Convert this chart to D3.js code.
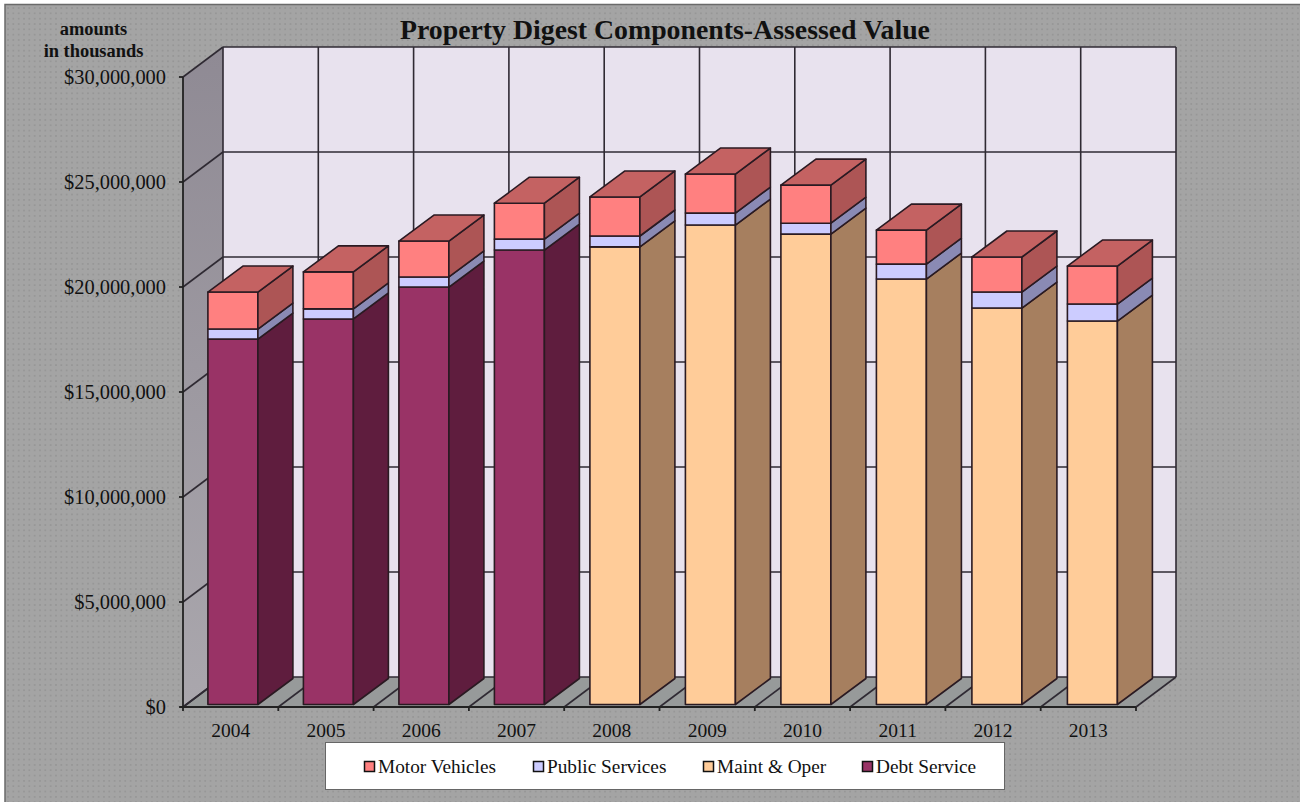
<!DOCTYPE html>
<html><head><meta charset="utf-8">
<script src="https://cdn.jsdelivr.net/npm/d3@7"></script>
<style>html,body{margin:0;padding:0;background:#fff}svg{display:block}text{font-family:"Liberation Serif","Times New Roman",serif;fill:#111}</style>
</head><body><svg id="c" width="1300" height="802"></svg>
<script>
const categories=["2004","2005","2006","2007","2008","2009","2010","2011","2012","2013"];
const base=[17.40,18.36,19.88,21.64,21.79,22.83,22.40,20.26,18.88,18.26];
const publicServices=[0.48,0.48,0.48,0.52,0.52,0.57,0.52,0.71,0.76,0.81];
const motorVehicles=[1.76,1.76,1.71,1.71,1.86,1.86,1.81,1.62,1.67,1.81];
const baseSeries=["Debt Service","Debt Service","Debt Service","Debt Service","Maint & Oper","Maint & Oper","Maint & Oper","Maint & Oper","Maint & Oper","Maint & Oper"];
const yTicks=[0,5,10,15,20,25,30];
const legendNames=["Motor Vehicles","Public Services","Maint & Oper","Debt Service"];
const colors={"Motor Vehicles":["#ff8080","#ad5555","#c46262"],"Public Services":["#ccccff","#8a8ab4","#a5a5cf"],"Maint & Oper":["#ffcc99","#a67f5f","#c09a75"],"Debt Service":["#993366","#5f1d3e","#7a2950"]};

const svg=d3.select("#c");
const defs=svg.append("defs");
const pat=defs.append("pattern").attr("id","dots").attr("width",5.33).attr("height",5.33).attr("patternUnits","userSpaceOnUse");
pat.append("rect").attr("width",5.33).attr("height",5.33).attr("fill","#a4a4a4");
pat.append("rect").attr("x",2).attr("y",2).attr("width",1.4).attr("height",1.4).attr("fill","#8f8f8f");
const g1=defs.append("linearGradient").attr("id","wall").attr("x1",0).attr("y1",0).attr("x2",0).attr("y2",1);
g1.append("stop").attr("offset",0).attr("stop-color","#8f8a94");
g1.append("stop").attr("offset",1).attr("stop-color","#aaa7ad");

svg.append("rect").attr("x",5).attr("y",4.5).attr("width",1300).attr("height",802).attr("fill","url(#dots)").attr("stroke","#6a6a6a").attr("stroke-width",1.5);

const x=d3.scaleBand().domain(categories).range([183,1136]);
const y=d3.scaleLinear().domain([0,30]).range([707,77]);
const barX=d3.scaleBand().domain(categories).range([183.5,1138.5]);
const wallDx=40,wallDy=-30,barDx=35,barDy=-26,barW=50,barInset=24.4,barLift=-2.5;
const line="#2f2a33";
const xEnd=x.range()[1],xStart=x.range()[0];

// walls
svg.append("rect").attr("x",xStart+wallDx).attr("y",y(30)+wallDy).attr("width",xEnd-xStart).attr("height",y(0)-y(30)).attr("fill","#e8e2ee");
svg.append("path").attr("d",`M${xStart},${y(0)}L${xStart},${y(30)}L${xStart+wallDx},${y(30)+wallDy}L${xStart+wallDx},${y(0)+wallDy}Z`).attr("fill","url(#wall)");
svg.append("path").attr("d",`M${xStart},${y(0)}L${xEnd},${y(0)}L${xEnd+wallDx},${y(0)+wallDy}L${xStart+wallDx},${y(0)+wallDy}Z`).attr("fill","#979a9a");

// gridlines
const grid=svg.append("g").attr("stroke",line).attr("stroke-width",1.6).attr("fill","none");
yTicks.forEach(t=>{
  grid.append("line").attr("x1",xStart+wallDx).attr("x2",xEnd+wallDx).attr("y1",y(t)+wallDy).attr("y2",y(t)+wallDy);
  grid.append("line").attr("x1",xStart).attr("x2",xStart+wallDx).attr("y1",y(t)).attr("y2",y(t)+wallDy);
});
categories.concat([null]).forEach((c,i)=>{
  const px=c===null?xEnd:x(c);
  grid.append("line").attr("x1",px+wallDx).attr("x2",px+wallDx).attr("y1",y(30)+wallDy).attr("y2",y(0)+wallDy);
  grid.append("line").attr("x1",px).attr("x2",px+wallDx).attr("y1",y(0)).attr("y2",y(0)+wallDy);
});

// axes
const axisG=svg.append("g").attr("stroke","#222").attr("stroke-width",1.8);
axisG.append("line").attr("x1",xStart).attr("x2",xStart).attr("y1",y(30)).attr("y2",y(0));
axisG.append("line").attr("x1",xStart-3).attr("x2",xEnd).attr("y1",y(0)).attr("y2",y(0));
yTicks.forEach(t=>axisG.append("line").attr("x1",xStart-4).attr("x2",xStart).attr("y1",y(t)).attr("y2",y(t)));
categories.concat([null]).forEach(c=>{const px=c===null?xEnd:x(c);axisG.append("line").attr("x1",px).attr("x2",px).attr("y1",y(0)).attr("y2",y(0)+4);});

// bars
const barsG=svg.append("g").attr("stroke","#2a1a22").attr("stroke-width",1.6).attr("stroke-linejoin","round");
function box(cat,lo,hi,name){
  const xl=barX(cat)+barInset,xr=xl+barW,yb=y(lo)+barLift,yt=y(hi)+barLift,c=colors[name];
  barsG.append("rect").attr("x",xl).attr("y",yt).attr("width",barW).attr("height",yb-yt).attr("fill",c[0]);
  barsG.append("path").attr("d",`M${xr},${yb}L${xr+barDx},${yb+barDy}L${xr+barDx},${yt+barDy}L${xr},${yt}Z`).attr("fill",c[1]);
  return {xl,xr,yt,c};
}
categories.forEach((cat,i)=>{
  const a=base[i],b=a+publicServices[i],c=b+motorVehicles[i];
  box(cat,0,a,baseSeries[i]);
  box(cat,a,b,"Public Services");
  const m=box(cat,b,c,"Motor Vehicles");
  barsG.append("path").attr("d",`M${m.xl},${m.yt}L${m.xr},${m.yt}L${m.xr+barDx},${m.yt+barDy}L${m.xl+barDx},${m.yt+barDy}Z`).attr("fill",m.c[2]);
});

// labels
const fmt=d3.format("$,.0f");
svg.append("g").selectAll("text").data(yTicks).join("text").attr("x",166).attr("y",d=>y(d)+7).attr("text-anchor","end").attr("font-size",20.4).text(d=>fmt(d*1e6));
svg.append("g").selectAll("text").data(categories).join("text").attr("x",d=>x(d)+x.bandwidth()/2).attr("y",737).attr("text-anchor","middle").attr("font-size",19.5).text(d=>d);
svg.append("text").attr("x",665).attr("y",39).attr("text-anchor","middle").attr("font-size",27.8).attr("font-weight","bold").text("Property Digest Components-Assessed Value");
svg.append("text").attr("x",93.5).attr("y",35).attr("text-anchor","middle").attr("font-size",18.4).attr("font-weight","bold").text("amounts");
svg.append("text").attr("x",93.5).attr("y",57).attr("text-anchor","middle").attr("font-size",18.4).attr("font-weight","bold").text("in thousands");

// legend
svg.append("rect").attr("x",325.5).attr("y",742.5).attr("width",679).attr("height",47).attr("fill","#fff").attr("stroke","#666").attr("stroke-width",1);
const legendX=[364,533,703,862];
legendNames.forEach((n,i)=>{
  svg.append("rect").attr("x",legendX[i]+.5).attr("y",761.5).attr("width",10).attr("height",10).attr("fill",colors[n][0]).attr("stroke","#111").attr("stroke-width",1.5);
  svg.append("text").attr("x",legendX[i]+14).attr("y",773).attr("font-size",19.3).text(n);
});
</script></body></html>
